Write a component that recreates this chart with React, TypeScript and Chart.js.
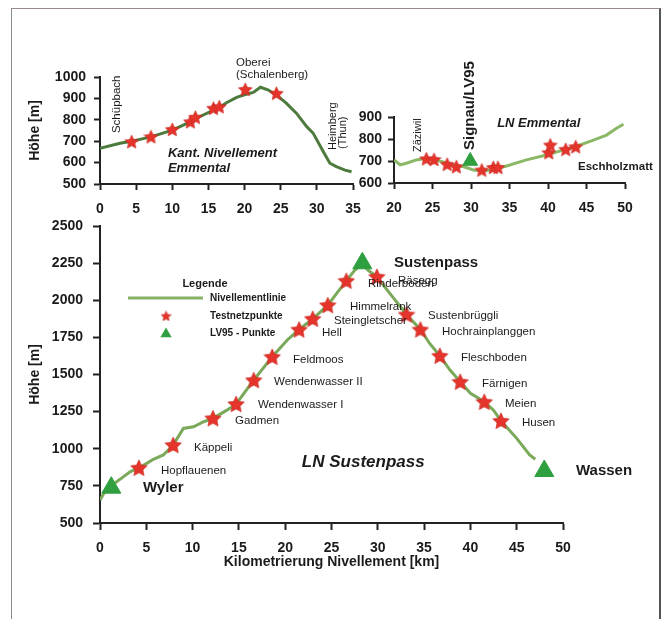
import React, { useEffect, useRef } from 'react';
import { Chart, registerables } from 'chart.js';

Chart.register(...registerables);

const FONT = "'Liberation Sans', Arial, Helvetica, sans-serif";

// ---------- Top-left: Kant. Nivellement Emmental ----------
const kantLineKm = [0, 2.77, 4.38, 7.05, 10.0, 12.5, 13.2, 15.7, 16.5, 17.5, 18.9, 20.1, 21.2, 22.2, 23.3, 24.7, 25.8, 27.2, 28.6, 29.5, 30.9, 31.8, 32.7, 33.9, 34.8];
const kantLineH = [667, 690, 700, 720, 752, 790, 805, 845, 858, 880, 905, 918, 928, 952, 939, 908, 877, 830, 768, 737, 651, 597, 581, 565, 557];
const kantStarKm = [4.38, 7.05, 10.0, 12.5, 13.2, 15.7, 16.5, 20.1, 24.4];
const kantStarH = [698, 721, 755, 791, 812, 854, 861, 942, 924];

// ---------- Top-right: LN Emmental ----------
const emmLineKm = [20.0, 20.8, 21.6, 22.9, 24.2, 25.2, 26.9, 28.1, 29.0, 30.3, 31.4, 32.9, 34.6, 37.2, 39.8, 41.5, 43.5, 45.9, 47.6, 48.9, 49.8];
const emmLineH = [705, 682, 690, 705, 712, 708, 690, 680, 675, 659, 655, 660, 677, 705, 727, 745, 765, 795, 818, 849, 867];
const emmStarKm = [24.2, 25.2, 26.9, 28.1, 31.4, 32.9, 33.5, 40.1, 40.3, 42.3, 43.6];
const emmStarH = [710, 707, 685, 674, 659, 671, 671, 738, 773, 753, 765];
const emmLv95Km = [29.9];
const emmLv95H = [700];

// ---------- Bottom: LN Sustenpass ----------
const sustLineKm = [0, 0.8, 1.5, 2.16, 3.24, 4.2, 5.0, 5.76, 6.84, 7.9, 9.0, 10.1, 11.2, 12.2, 13.7, 14.7, 15.5, 16.6, 18.6, 20.2, 21.5, 22.97, 24.6, 25.6, 26.6, 27.5, 28.3, 29.0, 29.9, 31.3, 33.1, 34.6, 35.6, 36.7, 37.8, 38.9, 40.0, 41.5, 42.5, 43.3, 45.0, 46.4, 47.0];
const sustLineH = [655, 740, 765, 794, 845, 872, 900, 929, 958, 1025, 1137, 1148, 1182, 1205, 1260, 1301, 1370, 1462, 1619, 1731, 1803, 1875, 1967, 2050, 2131, 2202, 2245, 2200, 2158, 2046, 1904, 1803, 1709, 1626, 1530, 1451, 1373, 1316, 1260, 1188, 1070, 958, 929];
const sustStarKm = [4.2, 7.9, 12.2, 14.7, 16.6, 18.6, 21.5, 22.97, 24.6, 26.6, 29.9, 33.1, 34.6, 36.7, 38.9, 41.5, 43.3];
const sustStarH = [872, 1025, 1205, 1301, 1462, 1619, 1803, 1875, 1967, 2131, 2158, 1904, 1803, 1626, 1451, 1316, 1188];
const sustLv95Km = [1.22, 28.33, 47.98];
const sustLv95H = [738, 2249, 850];

// Tick settings
const kantXTicks = { min: 0, max: 35, step: 5 };
const kantYTicks = { min: 500, max: 1000, step: 100 };
const emmXTicks = { min: 20, max: 50, step: 5 };
const emmYTicks = { min: 600, max: 900, step: 100 };
const sustXTicks = { min: 0, max: 50, step: 5 };
const sustYTicks = { min: 500, max: 2500, step: 250 };

const yTitle = 'Höhe [m]';
const xTitle = 'Kilometrierung Nivellement [km]';

// Annotation texts (anchored in data units)
type Lbl = { t: string; x: number; y: number; f: string; rot?: boolean; align?: CanvasTextAlign };
const kantLabels: Lbl[] = [
  { t: 'Schüpbach', x: 2.35, y: 738, f: `11.5px ${FONT}`, rot: true },
  { t: 'Oberei', x: 18.81, y: 1065, f: `11.5px ${FONT}` },
  { t: '(Schalenberg)', x: 18.81, y: 1009, f: `11.5px ${FONT}` },
  { t: 'Kant. Nivellement', x: 9.4, y: 645, f: `italic bold 13px ${FONT}` },
  { t: 'Emmental', x: 9.4, y: 575, f: `italic bold 13px ${FONT}` },
  { t: 'Heimberg', x: 32.2, y: 659, f: `11px ${FONT}`, rot: true },
  { t: '(Thun)', x: 33.6, y: 664, f: `11px ${FONT}`, rot: true },
];
const emmLabels: Lbl[] = [
  { t: 'Zäziwil', x: 23.1, y: 741, f: `11px ${FONT}`, rot: true },
  { t: 'Signau/LV95', x: 29.87, y: 750, f: `bold 15px ${FONT}`, rot: true },
  { t: 'LN Emmental', x: 33.4, y: 873, f: `italic bold 13px ${FONT}` },
  { t: 'Eschholzmatt', x: 43.9, y: 673, f: `bold 11.5px ${FONT}` },
];
const sustLabels: Lbl[] = [
  { t: 'Wyler', x: 4.64, y: 736, f: `bold 15px ${FONT}` },
  { t: 'Hopflauenen', x: 6.59, y: 850, f: `11.5px ${FONT}` },
  { t: 'Käppeli', x: 10.15, y: 1005, f: `11.5px ${FONT}` },
  { t: 'Gadmen', x: 14.58, y: 1187, f: `11.5px ${FONT}` },
  { t: 'Wendenwasser I', x: 17.06, y: 1295, f: `11.5px ${FONT}` },
  { t: 'Wendenwasser II', x: 18.79, y: 1449, f: `11.5px ${FONT}` },
  { t: 'Feldmoos', x: 20.84, y: 1598, f: `11.5px ${FONT}` },
  { t: 'Hell', x: 23.97, y: 1779, f: `11.5px ${FONT}` },
  { t: 'Steingletscher', x: 25.27, y: 1860, f: `11.5px ${FONT}` },
  { t: 'Himmelrank', x: 27.0, y: 1955, f: `11.5px ${FONT}` },
  { t: 'Rinderboden', x: 28.94, y: 2109, f: `11.5px ${FONT}` },
  { t: 'Räsegg', x: 32.18, y: 2130, f: `11.5px ${FONT}` },
  { t: 'Sustenpass', x: 31.75, y: 2251, f: `bold 15px ${FONT}` },
  { t: 'Sustenbrüggli', x: 35.42, y: 1894, f: `11.5px ${FONT}` },
  { t: 'Hochrainplanggen', x: 36.93, y: 1786, f: `11.5px ${FONT}` },
  { t: 'Fleschboden', x: 38.98, y: 1611, f: `11.5px ${FONT}` },
  { t: 'Färnigen', x: 41.25, y: 1436, f: `11.5px ${FONT}` },
  { t: 'Meien', x: 43.74, y: 1301, f: `11.5px ${FONT}` },
  { t: 'Husen', x: 45.57, y: 1173, f: `11.5px ${FONT}` },
  { t: 'Wassen', x: 51.4, y: 850, f: `bold 15px ${FONT}` },
  { t: 'LN Sustenpass', x: 21.8, y: 911, f: `italic bold 17px ${FONT}` },
];
const legendTitle = 'Legende';
const legendItems = ['Nivellementlinie', 'Testnetzpunkte', 'LV95 - Punkte'];

const STAR_RED = '#e4342b';
const TRI_GREEN = '#2f9f3f';

function makeStar(size: number): HTMLCanvasElement {
  const c = document.createElement('canvas');
  c.width = size;
  c.height = size;
  const ctx = c.getContext('2d')!;
  const R = size / 2 - 0.3;
  const r = R * 0.48;
  const cx = size / 2;
  const cy = size / 2 + size * 0.04;
  ctx.beginPath();
  for (let i = 0; i < 10; i++) {
    const a = -Math.PI / 2 + (i * Math.PI) / 5;
    const rad = i % 2 === 0 ? R : r;
    const px = cx + Math.cos(a) * rad;
    const py = cy + Math.sin(a) * rad;
    if (i === 0) ctx.moveTo(px, py);
    else ctx.lineTo(px, py);
  }
  ctx.closePath();
  ctx.fillStyle = STAR_RED;
  ctx.fill();
  ctx.strokeStyle = '#c82620';
  ctx.lineWidth = 0.6;
  ctx.stroke();
  return c;
}

function pts(xs: number[], ys: number[]) {
  return xs.map((x, i) => ({ x, y: ys[i] }));
}

const labelPlugin = (labels: Lbl[], legend: boolean, legendStar?: HTMLCanvasElement) => ({
  id: 'labels',
  afterDatasetsDraw(chart: any) {
    const ctx: CanvasRenderingContext2D = chart.ctx;
    const xs = chart.scales.x;
    const ys = chart.scales.y;
    ctx.save();
    ctx.fillStyle = '#1b1b1b';
    ctx.textBaseline = 'middle';
    for (const l of labels) {
      const px = xs.getPixelForValue(l.x);
      const py = ys.getPixelForValue(l.y);
      ctx.font = l.f;
      if (l.rot) {
        ctx.save();
        ctx.translate(px, py);
        ctx.rotate(-Math.PI / 2);
        ctx.textAlign = 'left';
        ctx.fillText(l.t, 0, 0);
        ctx.restore();
      } else {
        ctx.textAlign = l.align || 'left';
        ctx.fillText(l.t, px, py);
      }
    }
    if (legend) {
      const X = (v: number) => xs.getPixelForValue(v);
      const Y = (v: number) => ys.getPixelForValue(v);
      ctx.font = `bold 11px ${FONT}`;
      ctx.textAlign = 'center';
      ctx.fillText(legendTitle, X(11.34), Y(2109));
      ctx.strokeStyle = '#86b266';
      ctx.lineWidth = 3;
      ctx.beginPath();
      ctx.moveTo(X(3.02), Y(2015));
      ctx.lineTo(X(11.12), Y(2015));
      ctx.stroke();
      if (legendStar) {
        ctx.drawImage(legendStar, X(7.13) - legendStar.width / 2, Y(1894) - legendStar.height / 2);
      }
      const tx = X(7.13);
      const ty = Y(1779) + 1;
      const r = 6.5;
      ctx.beginPath();
      ctx.moveTo(tx, ty - r);
      ctx.lineTo(tx + r * 0.866, ty + r * 0.5);
      ctx.lineTo(tx - r * 0.866, ty + r * 0.5);
      ctx.closePath();
      ctx.fillStyle = TRI_GREEN;
      ctx.fill();
      ctx.fillStyle = '#1b1b1b';
      ctx.font = `bold 10px ${FONT}`;
      ctx.textAlign = 'left';
      ctx.fillText(legendItems[0], X(11.88), Y(2015));
      ctx.fillText(legendItems[1], X(11.88), Y(1894));
      ctx.fillText(legendItems[2], X(11.88), Y(1779));
    }
    ctx.restore();
  },
});

type AxisCfg = {
  xt: { min: number; max: number; step: number };
  yt: { min: number; max: number; step: number };
  area: { left: number; top: number; right: number; bottom: number };
  yWidth: number;
  xHeight: number;
  tickLen: number;
  xPad: number;
  yPad: number;
  yTitleText?: string;
  xTitleText?: string;
};

const plainNum = (v: any) => String(v);

function scalesFor(c: AxisCfg) {
  const tickFont = { family: FONT, size: 14, weight: 'bold' as const };
  const grid = {
    display: true,
    drawOnChartArea: false,
    drawTicks: true,
    tickLength: c.tickLen,
    tickWidth: 2,
    tickColor: '#222',
  };
  const border = { display: true, color: '#222', width: 2 };
  return {
    x: {
      type: 'linear' as const,
      min: c.xt.min,
      max: c.xt.max,
      ticks: { stepSize: c.xt.step, color: '#1b1b1b', font: tickFont, padding: c.xPad, maxRotation: 0, autoSkip: false, callback: plainNum },
      grid,
      border,
      title: c.xTitleText
        ? { display: true, text: c.xTitleText, color: '#1b1b1b', font: { family: FONT, size: 14, weight: 'bold' as const }, padding: { top: 0, bottom: 2 } }
        : { display: false },
      afterFit: (s: any) => {
        s.height = c.xHeight;
      },
    },
    y: {
      type: 'linear' as const,
      min: c.yt.min,
      max: c.yt.max,
      ticks: { stepSize: c.yt.step, color: '#1b1b1b', font: tickFont, padding: c.yPad, autoSkip: false, callback: plainNum },
      grid,
      border,
      title: c.yTitleText
        ? { display: true, text: c.yTitleText, color: '#1b1b1b', font: { family: FONT, size: 14, weight: 'bold' as const }, padding: { top: 27, bottom: 0 } }
        : { display: false },
      afterFit: (s: any) => {
        s.width = c.yWidth;
      },
    },
  };
}

const W = 664;
const H = 619;

function buildConfig(datasets: any[], c: AxisCfg, plugin: any) {
  return {
    type: 'scatter' as const,
    data: { datasets },
    options: {
      responsive: false,
      animation: false as const,
      devicePixelRatio: 1,
      events: [],
      layout: {
        padding: {
          left: c.area.left - c.yWidth,
          top: c.area.top,
          right: W - c.area.right,
          bottom: H - c.area.bottom - c.xHeight,
        },
      },
      plugins: { legend: { display: false }, tooltip: { enabled: false } },
      scales: scalesFor(c),
    },
    plugins: [plugin],
  };
}

export default function App() {
  const r1 = useRef<HTMLCanvasElement>(null);
  const r2 = useRef<HTMLCanvasElement>(null);
  const r3 = useRef<HTMLCanvasElement>(null);

  useEffect(() => {
    const starS = makeStar(15);
    const starL = makeStar(18);
    const starLeg = makeStar(11);

    const lineDs = (xs: number[], ys: number[], color: string, width: number) => ({
      type: 'line' as const,
      data: pts(xs, ys),
      borderColor: color,
      borderWidth: width,
      pointRadius: 0,
      tension: 0,
      fill: false,
      order: 3,
    });
    const starDs = (xs: number[], ys: number[], img: HTMLCanvasElement) => ({
      data: pts(xs, ys),
      pointStyle: img,
      pointRadius: 8,
      showLine: false,
      order: 2,
    });
    const triDs = (xs: number[], ys: number[], r: number) => ({
      data: pts(xs, ys),
      pointStyle: 'triangle',
      pointRadius: r,
      backgroundColor: TRI_GREEN,
      borderColor: TRI_GREEN,
      borderWidth: 1,
      showLine: false,
      order: 1,
    });

    const c1 = new Chart(
      r1.current!,
      buildConfig(
        [lineDs(kantLineKm, kantLineH, '#4d7b3d', 3), starDs(kantStarKm, kantStarH, starS)],
        {
          xt: kantXTicks,
          yt: kantYTicks,
          area: { left: 100, top: 77, right: 353, bottom: 184 },
          yWidth: 100,
          xHeight: 40,
          tickLen: 6,
          xPad: 11,
          yPad: 8,
          yTitleText: yTitle,
        },
        labelPlugin(kantLabels, false)
      ) as any
    );
    const c2 = new Chart(
      r2.current!,
      buildConfig(
        [lineDs(emmLineKm, emmLineH, '#8ab866', 3), starDs(emmStarKm, emmStarH, starS), triDs(emmLv95Km, emmLv95H, 8.5)],
        {
          xt: emmXTicks,
          yt: emmYTicks,
          area: { left: 394, top: 117, right: 625, bottom: 183 },
          yWidth: 60,
          xHeight: 40,
          tickLen: 6,
          xPad: 11,
          yPad: 6,
        },
        labelPlugin(emmLabels, false)
      ) as any
    );
    const c3 = new Chart(
      r3.current!,
      buildConfig(
        [lineDs(sustLineKm, sustLineH, '#7aa95a', 3), starDs(sustStarKm, sustStarH, starL), triDs(sustLv95Km, sustLv95H, 11)],
        {
          xt: sustXTicks,
          yt: sustYTicks,
          area: { left: 100, top: 226, right: 563, bottom: 523 },
          yWidth: 100,
          xHeight: 50,
          tickLen: 7,
          xPad: 9.5,
          yPad: 10,
          yTitleText: yTitle,
          xTitleText: xTitle,
        },
        labelPlugin(sustLabels, true, starLeg)
      ) as any
    );
    return () => {
      c1.destroy();
      c2.destroy();
      c3.destroy();
    };
  }, []);

  const cv: React.CSSProperties = { position: 'absolute', left: 0, top: 0, width: W, height: H };
  return (
    <div style={{ position: 'absolute', left: 0, top: 0, width: W, height: H, background: '#fff', overflow: 'hidden' }}>
      <div
        style={{
          position: 'absolute',
          left: 11,
          top: 8,
          width: 650,
          height: 612,
          borderTop: '1px solid #9a8a8a',
          borderLeft: '1px solid #8a8a8a',
          borderRight: '2px solid #555',
          boxSizing: 'border-box',
        }}
      />
      <canvas ref={r1} width={W} height={H} style={cv} />
      <canvas ref={r2} width={W} height={H} style={cv} />
      <canvas ref={r3} width={W} height={H} style={cv} />
    </div>
  );
}
